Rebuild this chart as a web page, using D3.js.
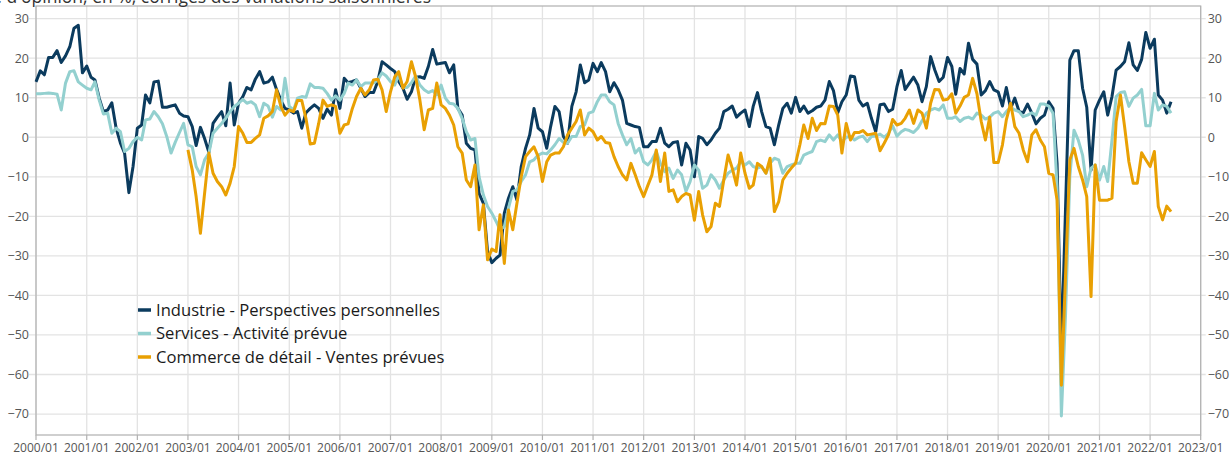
<!doctype html>
<html lang="fr">
<head>
  <meta charset="utf-8">
  <title>Soldes d'opinion</title>
  <script src="https://cdn.jsdelivr.net/npm/d3@7/dist/d3.min.js"></script>
  <style>
    body { margin: 0; background: #fff; }
    svg text { font-family: "Open Sans", "Noto Sans", sans-serif; }
  </style>
</head>
<body>
<div id="chart"></div>
<script>
  // monthly series
  var debutIndustrie = "2000-01";
  var industrie = [
    14, 16.8, 15.8, 20.2, 20.2, 21.9, 18.9, 20.6, 22.9, 27.6, 28.3, 16.3,
    18, 15.2, 14.5, 9.9, 6.5, 6.9, 8.7, 2.3, -1.5, -4, -14, -7.4,
    2.3, 3.1, 10.7, 8.7, 14, 14.2, 7.6, 7.6, 7.9, 8.2, 6.1, 5.4,
    5.2, 2.7, -2.1, 2.5, -0.3, -3.8, 3.5, 5.1, 6.5, 2.9, 13.7, 3.1,
    8.6, 10.3, 12.6, 12, 14.7, 16.6, 13.7, 14, 15.2, 12.1, 9.4, 7.3,
    6.9, 6.1, 6.5, 2.3, 6.2, 7.3, 8.2, 7.3, 4.8, 7.1, 5.6, 12,
    7.3, 14.9, 13.8, 14.1, 14.5, 12.4, 10.3, 11.3, 11.3, 14.1, 19.1, 18.3,
    17.4, 16.6, 14.1, 12.4, 9.6, 11.5, 15.2, 15.3, 14.9, 17.9, 22.2, 18.5,
    18.7, 18.9, 16.3, 18.3, 7.3, 5.6, -1.5, -2.8, -3.2, -14.2, -16.7, -28.9,
    -31.7, -30.6, -29.8, -19.2, -15.4, -12.5, -15.9, -7.4, -2.8, 0.6, 7.3, 2.3,
    1.4, -2.8, 2.7, 7.8, 6.5, 0.2, -1.5, 7.8, 11.5, 18.3, 13.8, 14.5,
    18.7, 16.6, 18.9, 16.6, 11.5, 13.8, 12, 9.4, 3.5, 3.1, 2.7, 2.5,
    -2.4, -2.4, -1.1, -1.1, 2.3, -1.5, -2.4, -1.3, -1.1, -7, -1.5, -3.2,
    -10, 0.2, -0.3, -1.9, -0.7, 1, 2.3, 6.5, 7.1, 7.9, 5.1, 6.1,
    6.9, 2.7, 7.8, 11.3, 6.5, 2.7, 2.3, -1.9, 3.1, 7.3, 8.6, 6.1,
    10.1, 6.5, 7.9, 6.1, 6.7, 7.6, 7.9, 9.4, 14.1, 11.8, 6.2, 9,
    10.7, 15.5, 15.3, 9.4, 7.9, 8.6, 4.8, 1.4, 8.2, 8.4, 6.5, 7.1,
    12.8, 16.9, 12.1, 13.7, 15.2, 13.2, 9, 12.8, 20.4, 17, 14.1, 15.2,
    20.2, 17.9, 10.9, 17.4, 16, 23.8, 19.7, 18.5, 10.7, 11.8, 14.1, 12,
    11.5, 7.9, 12.6, 7.3, 9.9, 6.5, 6.2, 8.4, 6.1, 3.4, 4.8, 5.6,
    9, 7.3, -6.6, -54.7, -18, 19.5, 21.9, 21.9, 12.4, 7.6, -8.3, 6.9,
    9.4, 11.5, 5.6, 10.3, 17, 17.9, 19.1, 23.9, 18.3, 16.9, 19.7, 26.5,
    22.5, 24.8, 10.7, 9.4, 6.1, 9
  ];

  var debutServices = "2000-01";
  var services = [
    11, 11, 11.1, 11.2, 11.1, 10.9, 6.9, 13.7, 16.6, 16.8, 14, 13.2,
    12.4, 12, 14, 9.4, 5.9, 6.1, 1, 2.3, 1.4, -3.6, -2.8, -1.1,
    0, -0.7, 4.4, 4.6, 6.5, 5.2, 3.4, 0.2, -4, -1.3, 1.2, 3.5,
    -1.9, -2.4, -7.4, -9.5, -5.7, -4, 1, 2.3, 3.5, 4.8, 6.5, 7.8,
    8.6, 9.6, 8.6, 9, 8.2, 5.2, 8.6, 7.9, 5.1, 7.8, 6.9, 14.9,
    7.8, 6.9, 9.9, 10.3, 10.1, 13.5, 12.6, 12.6, 12.4, 11.1, 9.4, 10.5,
    9.4, 11.1, 13.7, 13.2, 14.5, 12.8, 13.7, 13.7, 13.7, 14.5, 16.3, 15.5,
    14.1, 13.2, 15.8, 12.6, 12.6, 13.8, 15.5, 13.2, 12, 11.3, 11.8, 10.7,
    13.2, 9.9, 8.6, 8.4, 7.3, 4.8, 1.4, -0.7, -0.3, -10, -14.6, -17.5,
    -19.2, -21.3, -23.4, -22.6, -17.9, -13.7, -13.3, -11.2, -9.5, -6.2, -5.7, -4.5,
    -4, -4.2, -3.2, -1.9, -0.3, -1.3, -1.5, 0.2, 0.2, 2.7, 3.1, 6.1,
    6.5, 9, 10.7, 10.7, 9, 8.2, 3.5, 0.6, -1.9, -0.3, -4, -2.8,
    -6.2, -7, -5.7, -3.6, -6.6, -8.7, -7.8, -10.4, -8.3, -9.5, -13.7, -11.2,
    -7, -8.3, -12.9, -12.1, -9.5, -10.8, -12.9, -10.8, -9.1, -8.3, -7.8, -6.2,
    -7, -6.2, -7.4, -7.8, -7.4, -9.1, -6.6, -5.3, -5.7, -9.1, -7.4, -7,
    -6.6, -6.6, -4.5, -4, -3.6, -1.1, -0.7, -1.1, 0.6, -0.7, 0.6, -1.1,
    0, 0.2, -0.7, 0, 0.3, -1.1, 0.2, 0.3, 0.8, 0, 1, 2.9,
    0.3, 1.4, 2, 1.7, 1.2, 2.3, 4.2, 6.1, 6.9, 7.3, 6.9, 8.2,
    4.8, 4.8, 5.2, 4, 4.8, 5.1, 4.6, 6.1, 5.6, 4.6, 5.1, 6.1,
    6.5, 5.2, 6.5, 7.6, 6.9, 6.5, 5.2, 5.6, 6.2, 5.6, 8.4, 8.4,
    7.9, 6.1, -12.5, -70.5, -45, -10, 1.8, -0.7, -4.5, -12.5, -7.8, -7,
    -10.8, -7.4, -11.2, -0.7, 10.3, 11.3, 11.5, 7.8, 9.9, 10.7, 12.1, 2.9,
    2.9, 11.1, 6.9, 8.2, 7.8, 6.1
  ];

  var debutCommerce = "2003-01";
  var commerce = [
    -3.2, -8.3, -15, -24.3, -14.2, -4, -9.1, -11.2, -12.5, -14.6, -11.6, -7.4,
    2.7, 1, -1.3, -1.3, -0.3, 0.6, 4.8, 5.4, 6.5, 12, 7.8, 5.6,
    6.9, 6.5, 9.3, 9.3, 4.8, -1.7, -1.5, 3.5, 9.4, 7.8, 8.2, 7.8,
    1, 3.1, 3.4, 7.3, 10.3, 12.4, 10.7, 12, 14.5, 14.7, 12, 6.5,
    11.5, 15.3, 16.6, 12.4, 14.1, 19.1, 15.3, 9.4, 1.9, 6.9, 7.3, 13.7,
    8.2, 7.3, 5.6, 3.1, -2.4, -4, -10.8, -12.5, -7, -23.4, -17.1, -31,
    -28.3, -28.9, -19.6, -31.9, -18.4, -23.4, -16.7, -10, -4.9, -3.6, -2.4, -4.9,
    -11.2, -6.2, -4.5, -4, -4, -2.4, 0.6, 2.3, 4, 6.9, 0.6, 2.3,
    1.4, -0.7, 0.2, -1.3, -1.5, -4.9, -7.4, -9.5, -10.8, -6.6, -9.5, -12.5,
    -15, -12.1, -9.5, -3.2, -11.2, -4, -13.7, -13.3, -16.3, -15, -14.2, -14.6,
    -21, -13.7, -19.6, -23.9, -22.6, -16.7, -17.5, -10.8, -4.5, -7.8, -12.1, -4,
    -9.1, -12.9, -12.1, -6.6, -7.4, -9.1, -5.3, -18.8, -16.3, -10.8, -9.1, -7.8,
    -6.6, -1.9, 3.1, -0.3, 4.8, 1.7, 3.5, 3.4, 7.9, 7.8, 5.6, -4,
    3.5, -0.7, 1.2, 1.2, 1.7, 0.6, 0.8, 1, -3.4, -1.5, 0.6, 4.5,
    3.1, 3.5, 4.8, 6.9, 3.5, 6.9, 6.1, 2.3, 8.6, 12.1, 12, 9.4,
    9.6, 11, 6.1, 7.9, 10.1, 10.7, 14.9, 11, 4, -0.7, 5.1, -6.4,
    -6.4, -1.9, 4.4, 8.6, 2.7, 1, -3.2, -6.2, 0.6, 1.9, -0.7, -2.4,
    -9.1, -9.5, -15.9, -62.7, -35, -5.7, -2.8, -7.4, -10.8, -15, -40.3, -7,
    -15.9, -15.9, -15.9, -15.4, 4, 10.7, 2.7, -6.2, -11.6, -11.6, -3.9, -5.7,
    -7.4, -3.6, -17.5, -20.9, -17.4, -18.8
  ];

  var noms = ["Industrie - Perspectives personnelles", "Services - Activité prévue", "Commerce de détail - Ventes prévues"];
  var couleurs = ["#0b3b5e", "#93d0cf", "#e9a003"];
  var annees = d3.range(2000, 2024);
  var valeursY = d3.range(-70, 31, 10);
  var titre = "Solde d'opinion, en %, corrigés des variations saisonnières";

  var width = 1232, height = 455;
  var margin = { top: 6, right: 31.3, bottom: 20, left: 36 };

  var svg = d3.select("#chart").append("svg")
    .attr("width", width)
    .attr("height", height);

  var x = d3.scaleTime()
    .domain([new Date(2000, 0, 1), new Date(2023, 0, 1)])
    .range([margin.left, width - margin.right]);

  var y = d3.scaleLinear()
    .domain([-75.3, 33.2])
    .range([height - margin.bottom, margin.top]);

  var parseMois = d3.timeParse("%Y-%m");
  function enDates(debut, vals) {
    var d0 = parseMois(debut);
    return vals.map(function (v, i) { return { date: d3.timeMonth.offset(d0, i), value: v }; });
  }
  var series = [enDates(debutIndustrie, industrie), enDates(debutServices, services), enDates(debutCommerce, commerce)];

  // grid
  svg.append("g")
    .selectAll("line")
    .data(valeursY)
    .enter().append("line")
    .attr("x1", margin.left - 7).attr("x2", width - margin.right + 5)
    .attr("y1", function (d) { return y(d); }).attr("y2", function (d) { return y(d); })
    .style("stroke", "#e3e3e3").style("stroke-width", 1.3);

  svg.append("g")
    .selectAll("line")
    .data(annees)
    .enter().append("line")
    .attr("x1", function (d) { return x(new Date(d, 0, 1)); })
    .attr("x2", function (d) { return x(new Date(d, 0, 1)); })
    .attr("y1", margin.top).attr("y2", height - margin.bottom)
    .style("stroke", "#e3e3e3").style("stroke-width", 1.3);

  // frame
  svg.append("rect")
    .attr("x", margin.left).attr("y", margin.top)
    .attr("width", width - margin.right - margin.left)
    .attr("height", height - margin.bottom - margin.top)
    .style("fill", "none").style("stroke", "#b0b0b0").style("stroke-width", 1.2);

  // x tick marks + labels
  var gx = svg.append("g");
  gx.selectAll("line")
    .data(annees)
    .enter().append("line")
    .attr("x1", function (d) { return x(new Date(d, 0, 1)); })
    .attr("x2", function (d) { return x(new Date(d, 0, 1)); })
    .attr("y1", height - margin.bottom).attr("y2", height - margin.bottom + 5)
    .style("stroke", "#b0b0b0").style("stroke-width", 1.2);
  gx.selectAll("text")
    .data(annees)
    .enter().append("text")
    .attr("x", function (d) { return x(new Date(d, 0, 1)); })
    .attr("y", 451.5)
    .attr("text-anchor", "middle")
    .style("font-size", "12px")
    .style("fill", "#555")
    .text(function (d) { return d + "/01"; });

  function fmt(d) { return d < 0 ? "\u2212" + Math.abs(d) : String(d); }

  svg.append("g").selectAll("text")
    .data(valeursY)
    .enter().append("text")
    .attr("x", margin.left - 7)
    .attr("y", function (d) { return y(d); })
    .attr("dy", "0.35em")
    .attr("text-anchor", "end")
    .style("font-size", "12.5px")
    .style("fill", "#555")
    .text(fmt);

  svg.append("g").selectAll("text")
    .data(valeursY)
    .enter().append("text")
    .attr("x", width - margin.right + 7)
    .attr("y", function (d) { return y(d); })
    .attr("dy", "0.35em")
    .attr("text-anchor", "start")
    .style("font-size", "12.5px")
    .style("fill", "#555")
    .text(fmt);

  // lines
  var ligne = d3.line()
    .x(function (d) { return x(d.date); })
    .y(function (d) { return y(d.value); });

  svg.append("g")
    .selectAll("path")
    .data(series)
    .enter().append("path")
    .attr("d", ligne)
    .style("fill", "none")
    .style("stroke", function (d, i) { return couleurs[i]; })
    .style("stroke-width", 3)
    .style("stroke-linejoin", "round");

  // legend
  var leg = svg.append("g").selectAll("g")
    .data(noms)
    .enter().append("g")
    .attr("transform", function (d, i) { return "translate(138," + (310 + i * 23.5) + ")"; });
  leg.append("line")
    .attr("x1", 0).attr("x2", 13)
    .style("stroke", function (d, i) { return couleurs[i]; })
    .style("stroke-width", 3.5);
  leg.append("text")
    .attr("x", 18)
    .attr("dy", "0.35em")
    .style("font-size", "16.6px")
    .style("fill", "#1a1a1a")
    .text(function (d) { return d; });

  // title (cut by the top edge, as in the source)
  svg.append("text")
    .attr("x", 431)
    .attr("y", 3)
    .attr("text-anchor", "end")
    .style("font-size", "17.5px")
    .style("fill", "#333")
    .text(titre);
</script>
</body>
</html>
